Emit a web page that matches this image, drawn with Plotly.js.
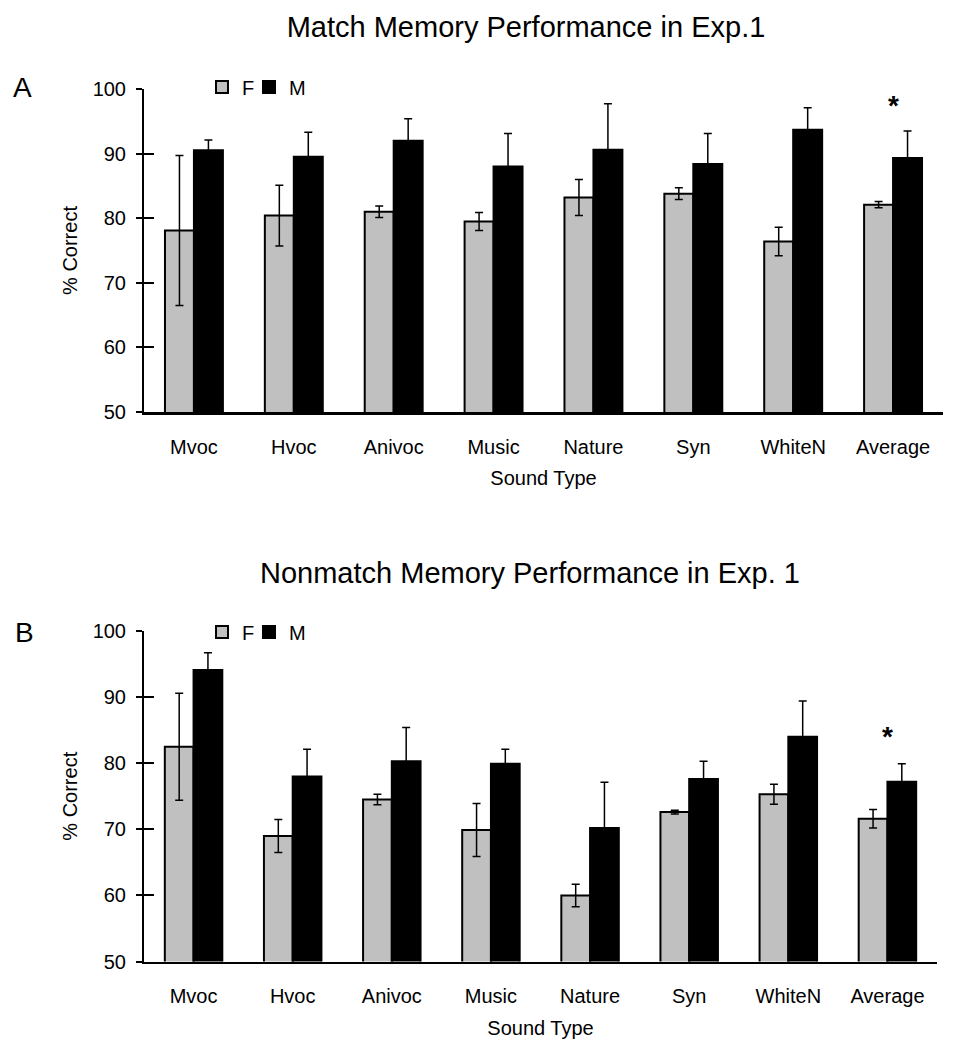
<!DOCTYPE html>
<html>
<head>
<meta charset="utf-8">
<script src="https://cdn.plot.ly/plotly-3.0.1.min.js"></script>
<style>html,body{margin:0;padding:0;background:#fff;}#chart{width:959px;height:1050px;}</style>
</head>
<body>
<div id="chart"></div>
<script>
var categories = ['Mvoc','Hvoc','Anivoc','Music','Nature','Syn','WhiteN','Average'];
var matchF = [78.1, 80.4, 81.0, 79.5, 83.2, 83.8, 76.4, 82.1];
var matchFErr = [11.6, 4.7, 0.9, 1.4, 2.8, 0.9, 2.2, 0.5];
var matchM = [90.5, 89.5, 92.0, 88.0, 90.6, 88.4, 93.7, 89.3];
var matchMErr = [1.6, 3.8, 3.4, 5.1, 7.1, 4.7, 3.4, 4.2];
var nonF = [82.5, 69.0, 74.5, 69.9, 60.0, 72.6, 75.3, 71.6];
var nonFErr = [8.1, 2.5, 0.8, 4.0, 1.7, 0.3, 1.5, 1.4];
var nonM = [94.1, 78.0, 80.3, 79.9, 70.2, 77.6, 84.0, 77.2];
var nonMErr = [2.6, 4.1, 5.1, 2.2, 6.9, 2.7, 5.4, 2.7];
var yTicks = [50, 60, 70, 80, 90, 100];

var FONT = 'Liberation Sans, Arial, sans-serif';
var W = 959, H = 1050;
function px(x){ return x / W; }
function py(y){ return 1 - y / H; }

function bar(name, x, y, err, fill, xa, ya, legend, lw){
  return {
    type: 'bar', name: name, x: x, y: y,
    xaxis: xa, yaxis: ya, legend: legend, showlegend: true, legendwidth: lw,
    marker: {color: fill, line: {color: '#000', width: 2}},
    error_y: {type: 'data', array: err, visible: true, color: '#000', thickness: 1.5, width: 4}
  };
}
// empty helper traces so the overlay axes (inner tick marks) get drawn
function emptyTrace(xa, ya){
  return {type: 'scatter', x: [], y: [], xaxis: xa, yaxis: ya, showlegend: false, hoverinfo: 'skip'};
}

var data = [
  bar('F', categories, matchF, matchFErr, '#c0c0c0', 'x', 'y', 'legend', 2),
  bar('M', categories, matchM, matchMErr, '#000000', 'x', 'y', 'legend', 24),
  bar('F', categories, nonF, nonFErr, '#c0c0c0', 'x2', 'y2', 'legend2', 2),
  bar('M', categories, nonM, nonMErr, '#000000', 'x2', 'y2', 'legend2', 24),
  emptyTrace('x', 'y3'),
  emptyTrace('x2', 'y4')
];

function yax(domain, anchor){
  return {
    domain: domain, anchor: anchor, range: [50, 100], tickvals: yTicks,
    showgrid: false, zeroline: false, showline: true, linecolor: '#000', linewidth: 2,
    ticks: 'outside', ticklen: 6, tickwidth: 2, tickcolor: '#000',
    ticklabelstandoff: 6,
    tickfont: {family: FONT, size: 20, color: '#000'},
    title: {text: '% Correct', font: {family: FONT, size: 20, color: '#000'}, standoff: 10},
    automargin: false, fixedrange: true
  };
}
function yin(ov, anchor){
  return {
    overlaying: ov, anchor: anchor, side: 'left', range: [50, 100], tickvals: yTicks,
    showgrid: false, zeroline: false, showline: false,
    ticks: 'inside', ticklen: 10, tickwidth: 2, tickcolor: '#000',
    showticklabels: false, automargin: false, fixedrange: true
  };
}
function xax(domain, anchor){
  return {
    domain: domain, anchor: anchor, type: 'category',
    showgrid: false, zeroline: false, showline: true, linecolor: '#000', linewidth: 2.5,
    ticks: '', ticklabelstandoff: 15,
    tickfont: {family: FONT, size: 20, color: '#000'},
    title: {text: 'Sound Type', font: {family: FONT, size: 20, color: '#000'}, standoff: 15},
    automargin: false, fixedrange: true
  };
}
function leg(y){
  return {orientation: 'h', x: px(202), y: py(y), xanchor: 'left', yanchor: 'middle',
          font: {family: FONT, size: 20, color: '#000'}, bgcolor: 'rgba(0,0,0,0)',
          itemwidth: 30, entrywidthmode: 'pixels', traceorder: 'normal'};
}

var layout = {
  width: W, height: H,
  margin: {l: 0, r: 0, t: 0, b: 0},
  paper_bgcolor: '#fff', plot_bgcolor: '#fff',
  font: {family: FONT, color: '#000'},
  barmode: 'group', bargap: 0.42, bargroupgap: 0,
  title: {text: 'Match Memory Performance in Exp.1', xref: 'container', yref: 'container',
          x: px(526), y: py(27), xanchor: 'center', yanchor: 'middle',
          font: {family: FONT, size: 29, color: '#000'}},
  xaxis: xax([px(144), px(943)], 'y'),
  yaxis: yax([py(412), py(89)], 'x'),
  xaxis2: xax([px(144), px(937)], 'y2'),
  yaxis2: yax([py(961.5), py(631)], 'x2'),
  yaxis3: yin('y', 'x'),
  yaxis4: yin('y2', 'x2'),
  legend: leg(87),
  legend2: leg(632),
  annotations: [
    {text: 'Nonmatch Memory Performance in Exp. 1', xref: 'paper', yref: 'paper',
     x: px(530), y: py(573), xanchor: 'center', yanchor: 'middle', showarrow: false,
     font: {family: FONT, size: 29, color: '#000'}},
    {text: 'A', xref: 'paper', yref: 'paper', x: px(22), y: py(87), xanchor: 'center', yanchor: 'middle',
     showarrow: false, font: {family: FONT, size: 28, color: '#000'}},
    {text: 'B', xref: 'paper', yref: 'paper', x: px(24), y: py(632), xanchor: 'center', yanchor: 'middle',
     showarrow: false, font: {family: FONT, size: 28, color: '#000'}},
    {text: '<b>*</b>', xref: 'x', yref: 'y', x: 'Average', y: 97.4, xanchor: 'center', yanchor: 'middle',
     showarrow: false, font: {family: FONT, size: 28, color: '#000'}},
    {text: '<b>*</b>', xref: 'x2', yref: 'y2', x: 'Average', y: 84.0, xanchor: 'center', yanchor: 'middle',
     showarrow: false, font: {family: FONT, size: 28, color: '#000'}}
  ]
};

Plotly.newPlot('chart', data, layout, {staticPlot: true, displayModeBar: false});
</script>
</body>
</html>
